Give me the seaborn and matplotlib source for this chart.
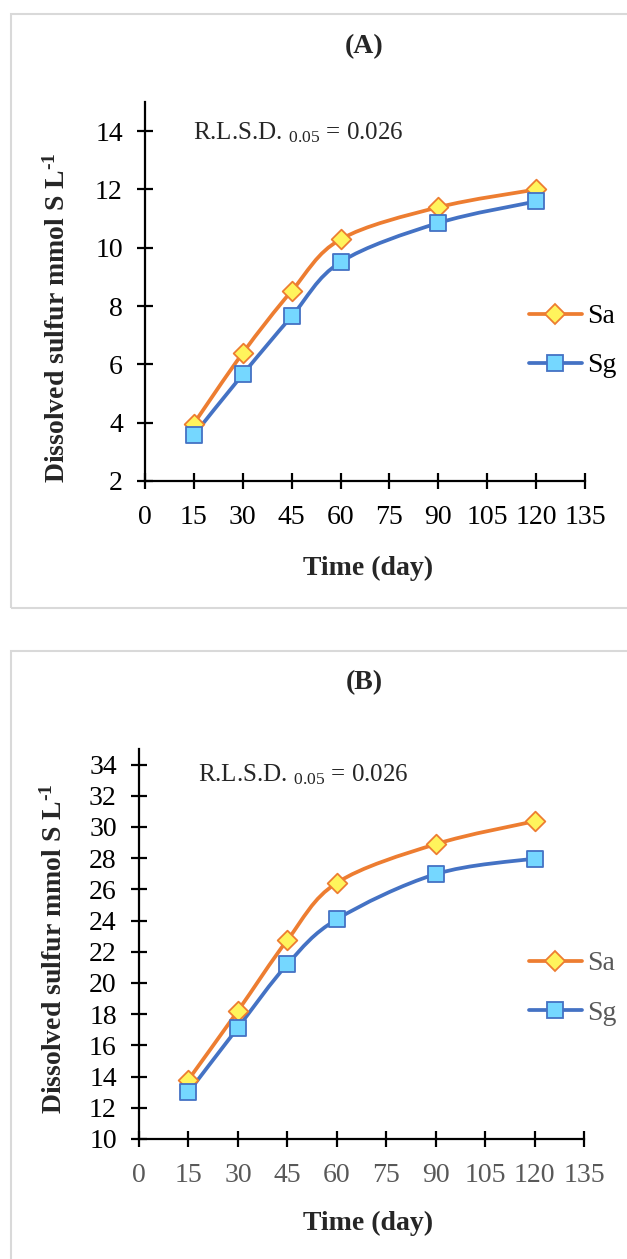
import numpy as np
import pandas as pd
import matplotlib
matplotlib.use("Agg")
import matplotlib.pyplot as plt
import seaborn as sns
from matplotlib.path import Path
from matplotlib.patches import PathPatch, Rectangle
from matplotlib.lines import Line2D

# ---------------- data ----------------
days = [15, 30, 45, 60, 90, 120]
a_sa = [3.97, 6.39, 8.52, 10.29, 11.39, 12.00]
a_sg = [3.58, 5.66, 7.65, 9.51, 10.85, 11.59]
b_sa = [13.80, 18.21, 22.75, 26.42, 28.90, 30.37]
b_sg = [13.00, 17.14, 21.20, 24.08, 26.98, 27.98]
series_names = ["Sa", "Sg"]
x_ticks = [0, 15, 30, 45, 60, 75, 90, 105, 120, 135]
a_yticks = [2, 4, 6, 8, 10, 12, 14]
b_yticks = [10, 12, 14, 16, 18, 20, 22, 24, 26, 28, 30, 32, 34]
panel_titles = ["(A)", "(B)"]
rlsd_text = "R.L.S.D. $_{0.05}$ = 0.026"
xlabel = "Time (day)"
ylabel = "Dissolved sulfur mmol S L$^{\\mathbf{\u2010}\\mathbf{1}}$"

# ---------------- style ----------------
sns.set_theme(style="white")
plt.rcParams["font.family"] = ["Liberation Serif", "DejaVu Sans"]
plt.rcParams["mathtext.fontset"] = "custom"
plt.rcParams["mathtext.rm"] = "Liberation Serif"
plt.rcParams["mathtext.it"] = "Liberation Serif:italic"
plt.rcParams["mathtext.bf"] = "Liberation Serif:bold"

ORANGE = "#ED7D31"
YELLOW = "#FFF45C"
BLUE = "#4472C4"
LBLUE = "#75D7FF"
GREY_BORDER = "#D9D9D9"

W, H = 627, 1259
fig = plt.figure(figsize=(W / 100, H / 100), dpi=100)

FS_TICK = 20
FS_LAB = 20
FS_TITLE = 20
FS_RLSD = 18
FS_LEG = 20


def fx(px):
    return px / W


def fy(py):
    return 1 - py / H


def smooth_path(xs, ys):
    xs = np.asarray(xs, float)
    ys = np.asarray(ys, float)
    pts = np.column_stack([xs, ys])
    n = len(pts)
    verts = [pts[0]]
    codes = [Path.MOVETO]
    for i in range(n - 1):
        p0 = pts[i - 1] if i > 0 else pts[i]
        p1 = pts[i]
        p2 = pts[i + 1]
        p3 = pts[i + 2] if i + 2 < n else pts[i + 1]
        c1 = p1 + (p2 - p0) / 6.0
        c2 = p2 - (p3 - p1) / 6.0
        verts += [c1, c2, p2]
        codes += [Path.CURVE4] * 3
    return Path(verts, codes)


def border_rect(x0, y0, y1):
    fig.patches.append(Rectangle((fx(x0), fy(y1)), 1.2, (y1 - y0) / H,
                                 transform=fig.transFigure, fill=False,
                                 edgecolor=GREY_BORDER, lw=1.5, zorder=0))


def panel(box, ylim, yticks, sa, sg, title, title_y, rlsd_xy, ylab_xy,
          xlab_y, leg_xy, xtick_color, leg_color):
    l, t, r, b = box
    ax = fig.add_axes([fx(l), fy(b), (r - l) / W, (b - t) / H])
    df = pd.DataFrame({"day": days * 2,
                       "value": list(sa) + list(sg),
                       "series": [series_names[0]] * len(days) + [series_names[1]] * len(days)})
    for name, col, mk, fc, ms in [(series_names[0], ORANGE, "D", YELLOW, 10),
                                  (series_names[1], BLUE, "s", LBLUE, 12)]:
        sub = df[df["series"] == name]
        ax.add_patch(PathPatch(smooth_path(sub["day"], sub["value"]), fill=False,
                               edgecolor=col, lw=2.7, capstyle="round", zorder=2))
        sns.scatterplot(data=sub, x="day", y="value", marker=mk, s=ms ** 2,
                        color=fc, edgecolor=col, linewidth=1.3, ax=ax, zorder=3,
                        legend=False)
    ax.set_xlim(0, 135)
    ax.set_ylim(*ylim)
    ax.set_xticks(x_ticks)
    ax.set_yticks(yticks)
    sns.despine(ax=ax)
    for s in ["left", "bottom"]:
        ax.spines[s].set_color("black")
        ax.spines[s].set_linewidth(1.6)
    ax.tick_params(axis="both", which="major", bottom=True, left=True,
                   direction="inout", length=12, width=1.6,
                   color="black", labelsize=FS_TICK)
    ax.tick_params(axis="x", labelcolor=xtick_color, pad=11)
    ax.tick_params(axis="y", labelcolor="black", pad=10)
    ax.set_xlabel(xlabel, fontsize=FS_LAB, fontweight="bold")
    ax.set_ylabel(ylabel, fontsize=FS_LAB, fontweight="bold")
    ax.xaxis.set_label_coords((368 - l) / (r - l), (b - xlab_y) / (b - t))
    ax.yaxis.set_label_coords((ylab_xy[0] - l) / (r - l), (b - ylab_xy[1]) / (b - t))
    ax.xaxis.label.set_va("center")
    ax.yaxis.label.set_va("center")
    fig.text(fx(364), fy(title_y), title, ha="center", va="center",
             fontsize=FS_TITLE, fontweight="bold")
    fig.text(fx(rlsd_xy[0]), fy(rlsd_xy[1]), rlsd_text, ha="left", va="center",
             fontsize=FS_RLSD)
    handles = [Line2D([], [], color=ORANGE, lw=2.7, marker="D", markersize=10,
                      markerfacecolor=YELLOW, markeredgecolor=ORANGE, markeredgewidth=1.3),
               Line2D([], [], color=BLUE, lw=2.7, marker="s", markersize=12,
                      markerfacecolor=LBLUE, markeredgecolor=BLUE, markeredgewidth=1.3)]
    leg = fig.legend(handles, series_names, loc="upper left",
                     bbox_to_anchor=(fx(leg_xy[0]), fy(leg_xy[1])),
                     frameon=False, fontsize=FS_LEG, handlelength=1.9,
                     handletextpad=0.2, labelspacing=0.85, borderpad=0,
                     borderaxespad=0)
    for t_ in leg.get_texts():
        t_.set_color(leg_color)
    return ax


border_rect(11, 14, 608)
border_rect(11, 651, 1300)

panel(box=(145, 102, 585, 481), ylim=(2, 15), yticks=a_yticks, sa=a_sa, sg=a_sg,
      title=panel_titles[0], title_y=47, rlsd_xy=(193, 133), ylab_xy=(57, 318),
      xlab_y=568, leg_xy=(529, 304), xtick_color="black", leg_color="black")
panel(box=(139, 749, 584, 1139), ylim=(10, 35), yticks=b_yticks, sa=b_sa, sg=b_sg,
      title=panel_titles[1], title_y=683, rlsd_xy=(198, 775), ylab_xy=(54, 949),
      xlab_y=1223, leg_xy=(529, 951), xtick_color="#595959", leg_color="#595959")

fig.savefig("out.png", dpi=100)
